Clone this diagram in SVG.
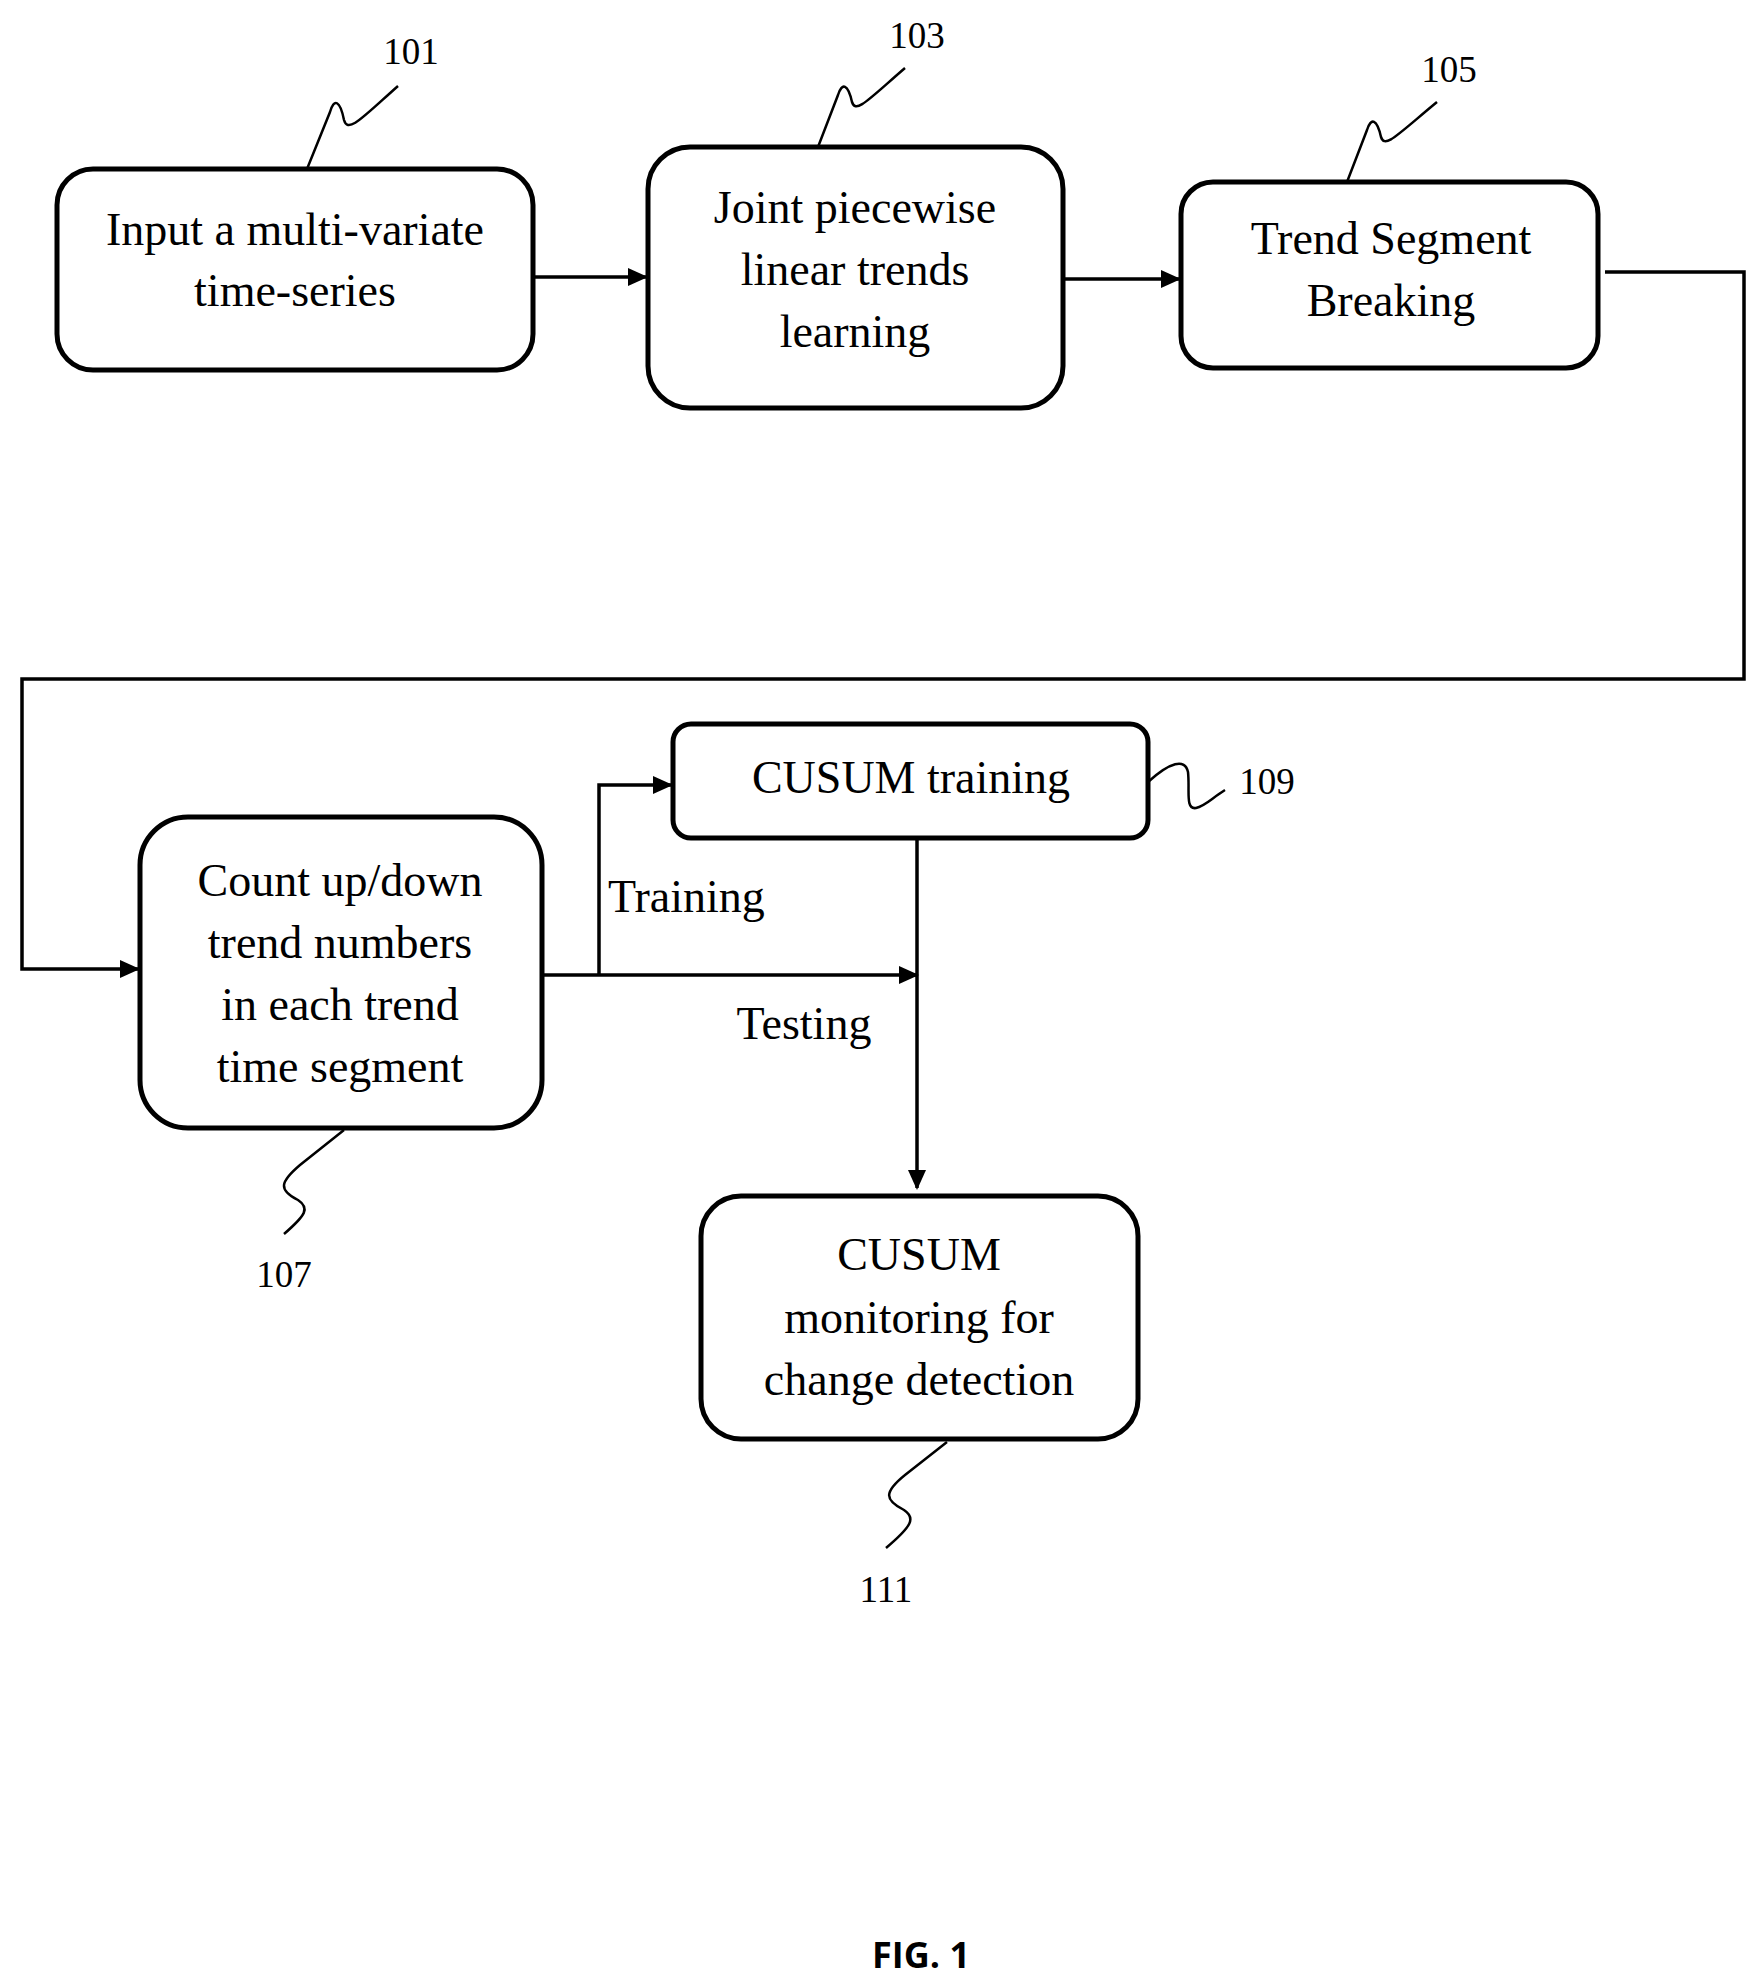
<svg xmlns="http://www.w3.org/2000/svg" width="1763" height="1986" viewBox="0 0 1763 1986">
<style>
.b{fill:#fff;stroke:#000;stroke-width:5}
.t{font-family:"Liberation Serif",serif;font-size:46px;text-anchor:middle;fill:#000}
.n{font-family:"Liberation Serif",serif;font-size:37px;text-anchor:middle;fill:#000}
.c{fill:none;stroke:#000;stroke-width:3.5}
.s{fill:none;stroke:#000;stroke-width:2.5}
</style>
<defs>
<marker id="m" markerWidth="20" markerHeight="18" refX="18" refY="9" orient="auto" markerUnits="userSpaceOnUse"><path d="M0,0L20,9L0,18z"/></marker></defs>
<g id="connectors">
<path class="c" d="M533,277H646" marker-end="url(#m)"/>
<path class="c" d="M1063,279H1179" marker-end="url(#m)"/>
<path class="c" d="M1605,272H1744V679H22V969H138" marker-end="url(#m)"/>
<path class="c" d="M542,975H917" marker-end="url(#m)"/>
<path class="c" d="M599,975V785H671" marker-end="url(#m)"/>
<path class="c" d="M917,838V1188" marker-end="url(#m)"/>
<text x="608" y="912" font-family="Liberation Serif,serif" font-size="46">Training</text>
<text x="804" y="1039" class="t">Testing</text>
</g>
<g id="n101"><rect class="b" x="57" y="169" width="476" height="201" rx="36"/>
<text class="t" x="295" y="245">Input a multi-variate</text><text class="t" x="295" y="306">time-series</text>
<path class="s" d="M307,169L330,112C334,98 340,100 344,120C348,134 362,118 398,86"/><text class="n" x="411" y="64">101</text></g>
<g id="n103"><rect class="b" x="648" y="147" width="415" height="261" rx="42"/>
<text class="t" x="855" y="223">Joint piecewise</text><text class="t" x="855" y="285">linear trends</text><text class="t" x="855" y="347">learning</text>
<path class="s" d="M818,147L838,95C842,82 848,84 852,102C856,114 868,100 905,68"/><text class="n" x="917" y="48">103</text></g>
<g id="n105"><rect class="b" x="1181" y="182" width="417" height="186" rx="32"/>
<text class="t" x="1391" y="254">Trend Segment</text><text class="t" x="1391" y="316">Breaking</text>
<path class="s" d="M1347,182L1367,130C1371,117 1377,119 1381,137C1385,149 1397,135 1437,102"/><text class="n" x="1449" y="82">105</text></g>
<g id="n107"><rect class="b" x="140" y="817" width="402" height="311" rx="48"/>
<text class="t" x="340" y="896">Count up/down</text><text class="t" x="340" y="958">trend numbers</text><text class="t" x="340" y="1020">in each trend</text><text class="t" x="340" y="1082">time segment</text>
<path class="s" d="M344,1130L300,1165C280,1182 278,1190 298,1200C310,1208 306,1215 284,1234"/><text class="n" x="284" y="1287">107</text></g>
<g id="n109"><rect class="b" x="673" y="724" width="475" height="114" rx="18"/>
<text class="t" x="911" y="793">CUSUM training</text>
<path class="s" d="M1148,782C1170,762 1185,758 1188,772C1190,790 1185,810 1196,808C1205,806 1212,798 1225,790"/><text class="n" x="1267" y="794">109</text></g>
<g id="n111"><rect class="b" x="701" y="1196" width="437" height="243" rx="40"/>
<text class="t" x="919" y="1270">CUSUM</text><text class="t" x="919" y="1333">monitoring for</text><text class="t" x="919" y="1395">change detection</text>
<path class="s" d="M947,1442L905,1475C884,1492 884,1500 904,1510C916,1518 912,1526 886,1548"/><text class="n" x="886" y="1602">111</text></g>
<text x="921" y="1968" font-family="'Open Sans',sans-serif" font-weight="bold" font-size="36" text-anchor="middle">FIG. 1</text>
</svg>
